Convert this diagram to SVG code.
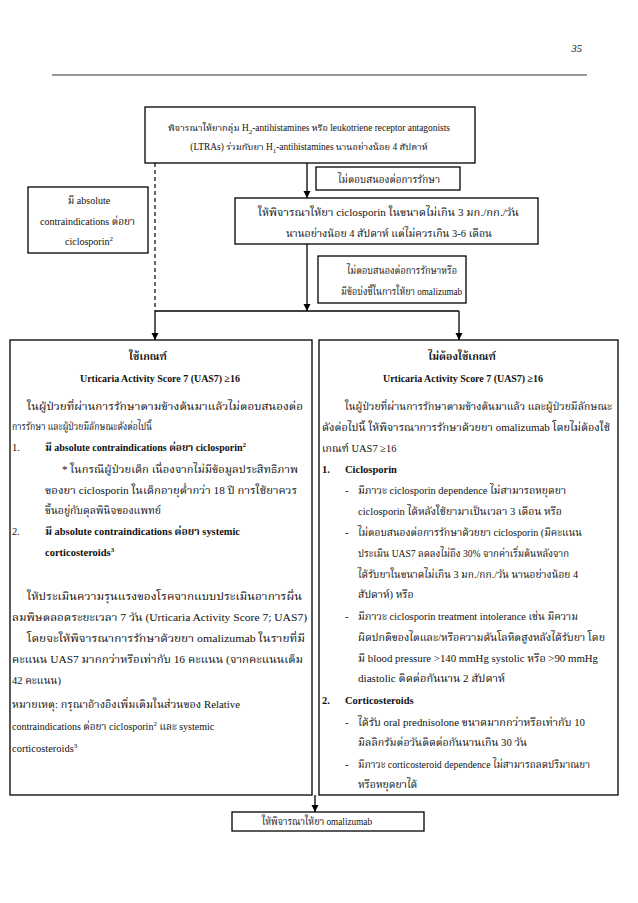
<svg xmlns="http://www.w3.org/2000/svg" width="638" height="903" viewBox="0 0 638 903">
<style>
.t{font-family:'Liberation Serif','Noto Serif Thai','Noto Sans Thai',serif;font-size:10.5px;fill:#111}
.b{font-weight:bold}
.box{fill:#fff;stroke:#000;stroke-width:1.3}
.c{stroke:#000;stroke-width:1.3;fill:none}
.d{stroke:#000;stroke-width:1.2;stroke-dasharray:4,3;fill:none}
.s{font-size:7px}
.sm{font-size:9.4px}
.md{font-size:10px}
</style>
<defs>
<marker id="ah" markerUnits="userSpaceOnUse" markerWidth="8" markerHeight="8" refX="7" refY="3.5" orient="auto">
<path d="M0,0 L7,3.5 L0,7 z" fill="#000"/>
</marker>
</defs>
<rect width="638" height="903" fill="#fff"/>

<text class="t" x="582" y="52" text-anchor="end" font-style="italic">35</text>
<line x1="52" y1="75" x2="587" y2="75" stroke="#333" stroke-width="1"/>

<g id="connectors">
<line class="c" x1="307" y1="163" x2="307" y2="198" marker-end="url(#ah)"/>
<line class="c" x1="307" y1="244" x2="307" y2="311" marker-end="url(#ah)"/>
<line class="d" x1="155" y1="163" x2="155" y2="311"/>
<line class="c" x1="155" y1="311" x2="459" y2="311"/>
<line class="c" x1="155" y1="311" x2="155" y2="340" marker-end="url(#ah)"/>
<line class="c" x1="459" y1="311" x2="459" y2="340" marker-end="url(#ah)"/>
<line class="c" x1="315" y1="795" x2="315" y2="812" marker-end="url(#ah)"/>
</g>

<g id="n-top">
<rect class="box" x="145" y="107" width="330" height="56"/>
<text class="t sm" x="309" y="131" text-anchor="middle">พิจารณาให้ยากลุ่ม H<tspan class="s" dy="3">2</tspan><tspan dy="-3">-antihistamines หรือ leukotriene receptor antagonists</tspan></text>
<text class="t sm" x="309" y="150" text-anchor="middle">(LTRAs) ร่วมกับยา H<tspan class="s" dy="3">1</tspan><tspan dy="-3">-antihistamines นานอย่างน้อย 4 สัปดาห์</tspan></text>
</g>

<g id="n-noresp1">
<rect class="box" x="316" y="167" width="144" height="23"/>
<text class="t" x="338" y="183" textLength="102" lengthAdjust="spacingAndGlyphs">ไม่ตอบสนองต่อการรักษา</text>
</g>

<g id="n-contra">
<rect class="box" x="28" y="187" width="120" height="66"/>
<text class="t md" x="89" y="204" text-anchor="middle">มี absolute</text>
<text class="t" x="40" y="225" textLength="95" lengthAdjust="spacingAndGlyphs">contraindications ต่อยา</text>
<text class="t md" x="65" y="245">ciclosporin<tspan class="s" dy="-4">2</tspan></text>
</g>

<g id="n-cyclo">
<rect class="box" x="235" y="198" width="303" height="46"/>
<text class="t" x="258" y="216" textLength="261" lengthAdjust="spacingAndGlyphs">ให้พิจารณาให้ยา ciclosporin ในขนาดไม่เกิน 3 มก./กก./วัน</text>
<text class="t" x="286" y="237" textLength="206" lengthAdjust="spacingAndGlyphs">นานอย่างน้อย 4 สัปดาห์ แต่ไม่ควรเกิน 3-6 เดือน</text>
</g>

<g id="n-noresp2">
<rect class="box" x="318" y="256" width="148" height="47"/>
<text class="t" x="347" y="274" textLength="110" lengthAdjust="spacingAndGlyphs">ไม่ตอบสนองต่อการรักษาหรือ</text>
<text class="t" x="341" y="295" textLength="121" lengthAdjust="spacingAndGlyphs">มีข้อบ่งชี้ในการให้ยา omalizumab</text>
</g>

<g id="n-left">
<rect class="box" x="10" y="340" width="302" height="455"/>
<text class="t b" x="148" y="360" text-anchor="middle">ใช้เกณฑ์</text>
<text class="t b" x="80" y="382" textLength="160" lengthAdjust="spacingAndGlyphs">Urticaria Activity Score 7 (UAS7) ≥16</text>
<text class="t" x="27" y="410" textLength="276" lengthAdjust="spacingAndGlyphs">ในผู้ป่วยที่ผ่านการรักษาตามข้างต้นมาแล้วไม่ตอบสนองต่อ</text>
<text class="t" x="12" y="430" textLength="140" lengthAdjust="spacingAndGlyphs">การรักษา และผู้ป่วยมีลักษณะดังต่อไปนี้</text>
<text class="t" x="12" y="451">1.</text>
<text class="t b md" x="45" y="451">มี absolute contraindications ต่อยา ciclosporin<tspan class="s" dy="-4">2</tspan></text>
<text class="t" x="62" y="473" textLength="236" lengthAdjust="spacingAndGlyphs">* ในกรณีผู้ป่วยเด็ก เนื่องจากไม่มีข้อมูลประสิทธิภาพ</text>
<text class="t" x="45" y="494" textLength="252" lengthAdjust="spacingAndGlyphs">ของยา ciclosporin ในเด็กอายุต่ำกว่า 18 ปี การใช้ยาควร</text>
<text class="t" x="45" y="514" textLength="116" lengthAdjust="spacingAndGlyphs">ขึ้นอยู่กับดุลพินิจของแพทย์</text>
<text class="t" x="12" y="535">2.</text>
<text class="t b" x="45" y="535" textLength="195" lengthAdjust="spacingAndGlyphs">มี absolute contraindications ต่อยา systemic</text>
<text class="t b" x="45" y="556">corticosteroids<tspan class="s" dy="-4">3</tspan></text>
<text class="t" x="27" y="600" textLength="275" lengthAdjust="spacingAndGlyphs">ให้ประเมินความรุนแรงของโรคจากแบบประเมินอาการผื่น</text>
<text class="t" x="12" y="621" textLength="295" lengthAdjust="spacingAndGlyphs">ลมพิษตลอดระยะเวลา 7 วัน (Urticaria Activity Score 7; UAS7)</text>
<text class="t" x="27" y="642" textLength="278" lengthAdjust="spacingAndGlyphs">โดยจะให้พิจารณาการรักษาด้วยยา omalizumab ในรายที่มี</text>
<text class="t" x="12" y="663" textLength="291" lengthAdjust="spacingAndGlyphs">คะแนน UAS7 มากกว่าหรือเท่ากับ 16 คะแนน (จากคะแนนเต็ม</text>
<text class="t" x="12" y="684">42 คะแนน)</text>
<text class="t" x="12" y="708" textLength="228" lengthAdjust="spacingAndGlyphs">หมายเหตุ: กรุณาอ้างอิงเพิ่มเติมในส่วนของ Relative</text>
<text class="t md" x="12" y="730">contraindications ต่อยา ciclosporin<tspan class="s" dy="-4">2</tspan><tspan dy="4"> และ systemic</tspan></text>
<text class="t" x="12" y="752">corticosteroids<tspan class="s" dy="-4">3</tspan></text>
</g>

<g id="n-right">
<rect class="box" x="319" y="340" width="299" height="455"/>
<text class="t b" x="462" y="360" text-anchor="middle">ไม่ต้องใช้เกณฑ์</text>
<text class="t b" x="383" y="382" textLength="160" lengthAdjust="spacingAndGlyphs">Urticaria Activity Score 7 (UAS7) ≥16</text>
<text class="t" x="345" y="410" textLength="267" lengthAdjust="spacingAndGlyphs">ในผู้ป่วยที่ผ่านการรักษาตามข้างต้นมาแล้ว และผู้ป่วยมีลักษณะ</text>
<text class="t" x="322" y="431" textLength="288" lengthAdjust="spacingAndGlyphs">ดังต่อไปนี้ ให้พิจารณาการรักษาด้วยยา omalizumab โดยไม่ต้องใช้</text>
<text class="t" x="322" y="452">เกณฑ์ UAS7 ≥16</text>
<text class="t b" x="322" y="473">1.</text>
<text class="t b" x="345" y="473">Ciclosporin</text>
<text class="t" x="345" y="494">-</text>
<text class="t" x="358" y="494" textLength="208" lengthAdjust="spacingAndGlyphs">มีภาวะ ciclosporin dependence ไม่สามารถหยุดยา</text>
<text class="t" x="358" y="515" textLength="204" lengthAdjust="spacingAndGlyphs">ciclosporin ได้หลังใช้ยามาเป็นเวลา 3 เดือน หรือ</text>
<text class="t" x="345" y="536">-</text>
<text class="t" x="358" y="536" textLength="224" lengthAdjust="spacingAndGlyphs">ไม่ตอบสนองต่อการรักษาด้วยยา ciclosporin (มีคะแนน</text>
<text class="t" x="358" y="557" textLength="211" lengthAdjust="spacingAndGlyphs">ประเมิน  UAS7 ลดลงไม่ถึง 30% จากค่าเริ่มต้นหลังจาก</text>
<text class="t" x="358" y="578" textLength="220" lengthAdjust="spacingAndGlyphs">ได้รับยาในขนาดไม่เกิน 3 มก./กก./วัน นานอย่างน้อย 4</text>
<text class="t" x="358" y="598">สัปดาห์) หรือ</text>
<text class="t" x="345" y="620">-</text>
<text class="t" x="358" y="620" textLength="220" lengthAdjust="spacingAndGlyphs">มีภาวะ ciclosporin treatment intolerance เช่น มีความ</text>
<text class="t" x="358" y="641" textLength="247" lengthAdjust="spacingAndGlyphs">ผิดปกติของไตและ/หรือความดันโลหิตสูงหลังได้รับยา โดย</text>
<text class="t" x="358" y="662" textLength="240" lengthAdjust="spacingAndGlyphs">มี blood pressure &gt;140 mmHg systolic หรือ &gt;90  mmHg</text>
<text class="t" x="358" y="682" textLength="147" lengthAdjust="spacingAndGlyphs">diastolic ติดต่อกันนาน 2 สัปดาห์</text>
<text class="t b" x="322" y="704">2.</text>
<text class="t b" x="345" y="704">Corticosteroids</text>
<text class="t" x="345" y="726">-</text>
<text class="t" x="358" y="726" textLength="227" lengthAdjust="spacingAndGlyphs">ได้รับ oral prednisolone ขนาดมากกว่าหรือเท่ากับ 10</text>
<text class="t" x="358" y="746" textLength="169" lengthAdjust="spacingAndGlyphs">มิลลิกรัมต่อวันติดต่อกันนานเกิน 30 วัน</text>
<text class="t" x="345" y="768">-</text>
<text class="t" x="358" y="768" textLength="232" lengthAdjust="spacingAndGlyphs">มีภาวะ corticosteroid dependence ไม่สามารถลดปริมาณยา</text>
<text class="t" x="358" y="788">หรือหยุดยาได้</text>
</g>

<g id="n-omali">
<rect class="box" x="232" y="812" width="192" height="19"/>
<text class="t" x="262" y="825" textLength="110" lengthAdjust="spacingAndGlyphs">ให้พิจารณาให้ยา omalizumab</text>
</g>
</svg>
